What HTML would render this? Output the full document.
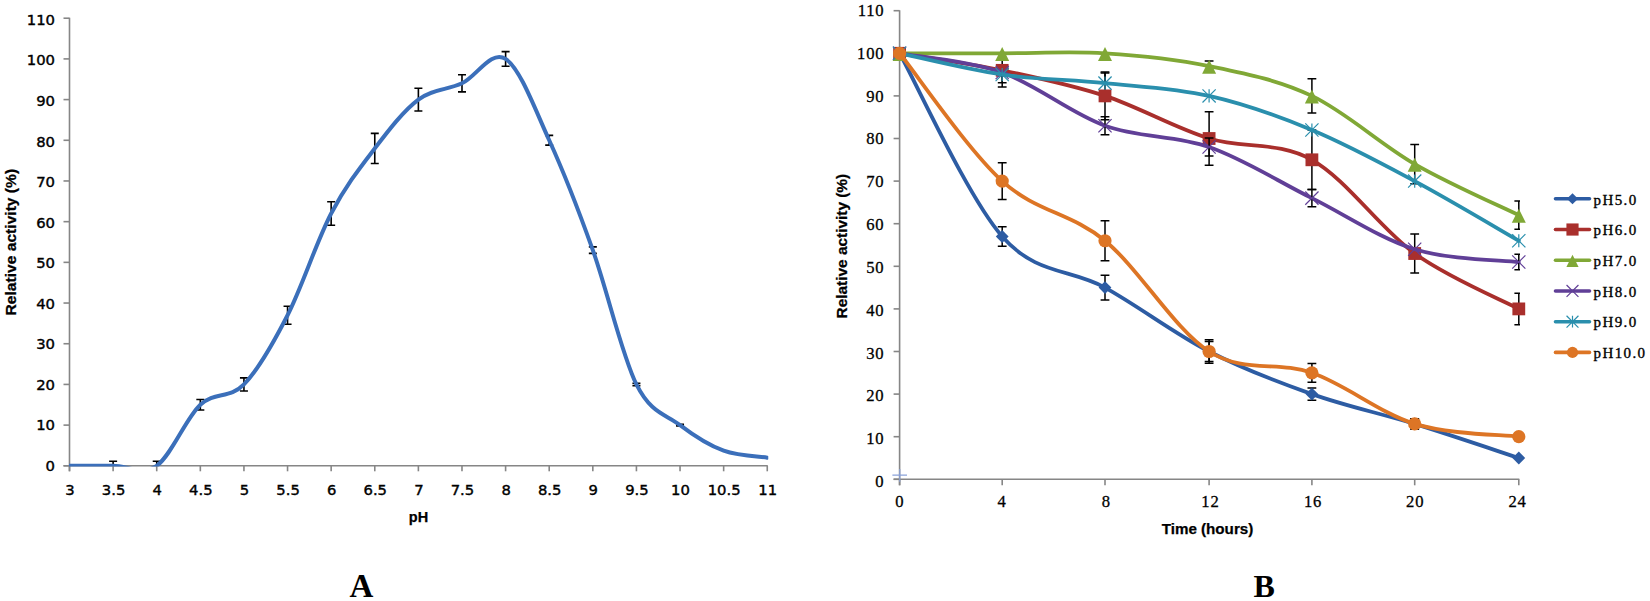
<!DOCTYPE html>
<html lang="en"><head><meta charset="utf-8"><title>Relative activity charts</title>
<style>html,body{margin:0;padding:0;background:#fff;overflow:hidden}svg{display:block}</style>
</head><body>
<svg width="1650" height="601" viewBox="0 0 1650 601">
<rect width="1650" height="601" fill="#fff"/>
<g stroke="#868686" stroke-width="1.6" fill="none">
<path d="M69.5,17.710000000000036 V471.3"/>
<path d="M63.5,465.8 H767.76"/>
<path d="M63.5,465.80 H69.5"/>
<path d="M63.5,425.11 H69.5"/>
<path d="M63.5,384.42 H69.5"/>
<path d="M63.5,343.73 H69.5"/>
<path d="M63.5,303.04 H69.5"/>
<path d="M63.5,262.35 H69.5"/>
<path d="M63.5,221.66 H69.5"/>
<path d="M63.5,180.97 H69.5"/>
<path d="M63.5,140.28 H69.5"/>
<path d="M63.5,99.59 H69.5"/>
<path d="M63.5,58.90 H69.5"/>
<path d="M63.5,18.21 H69.5"/>
<path d="M69.50,465.8 V471.3"/>
<path d="M113.11,465.8 V471.3"/>
<path d="M156.72,465.8 V471.3"/>
<path d="M200.33,465.8 V471.3"/>
<path d="M243.94,465.8 V471.3"/>
<path d="M287.55,465.8 V471.3"/>
<path d="M331.16,465.8 V471.3"/>
<path d="M374.77,465.8 V471.3"/>
<path d="M418.38,465.8 V471.3"/>
<path d="M461.99,465.8 V471.3"/>
<path d="M505.60,465.8 V471.3"/>
<path d="M549.21,465.8 V471.3"/>
<path d="M592.82,465.8 V471.3"/>
<path d="M636.43,465.8 V471.3"/>
<path d="M680.04,465.8 V471.3"/>
<path d="M723.65,465.8 V471.3"/>
<path d="M767.26,465.8 V471.3"/>
</g>
<g font-family="'DejaVu Sans', 'Liberation Sans', sans-serif" font-size="14.8" fill="#000" stroke="#000" stroke-width="0.4">
<text x="55" y="470.90" text-anchor="end">0</text>
<text x="55" y="430.35" text-anchor="end">10</text>
<text x="55" y="389.80" text-anchor="end">20</text>
<text x="55" y="349.25" text-anchor="end">30</text>
<text x="55" y="308.70" text-anchor="end">40</text>
<text x="55" y="268.15" text-anchor="end">50</text>
<text x="55" y="227.60" text-anchor="end">60</text>
<text x="55" y="187.05" text-anchor="end">70</text>
<text x="55" y="146.50" text-anchor="end">80</text>
<text x="55" y="105.95" text-anchor="end">90</text>
<text x="55" y="65.40" text-anchor="end">100</text>
<text x="55" y="24.85" text-anchor="end">110</text>
<text x="70.00" y="494.9" text-anchor="middle">3</text>
<text x="113.61" y="494.9" text-anchor="middle">3.5</text>
<text x="157.22" y="494.9" text-anchor="middle">4</text>
<text x="200.83" y="494.9" text-anchor="middle">4.5</text>
<text x="244.44" y="494.9" text-anchor="middle">5</text>
<text x="288.05" y="494.9" text-anchor="middle">5.5</text>
<text x="331.66" y="494.9" text-anchor="middle">6</text>
<text x="375.27" y="494.9" text-anchor="middle">6.5</text>
<text x="418.88" y="494.9" text-anchor="middle">7</text>
<text x="462.49" y="494.9" text-anchor="middle">7.5</text>
<text x="506.10" y="494.9" text-anchor="middle">8</text>
<text x="549.71" y="494.9" text-anchor="middle">8.5</text>
<text x="593.32" y="494.9" text-anchor="middle">9</text>
<text x="636.93" y="494.9" text-anchor="middle">9.5</text>
<text x="680.54" y="494.9" text-anchor="middle">10</text>
<text x="724.15" y="494.9" text-anchor="middle">10.5</text>
<text x="767.76" y="494.9" text-anchor="middle">11</text>
</g>
<defs><clipPath id="clipA"><rect x="69.0" y="0" width="699.26" height="466.40"/></clipPath></defs>
<g stroke="#000" stroke-width="1.6" fill="none" clip-path="url(#clipA)">
<path d="M113.11,461.32 V465.80 M109.11,461.32 H117.11"/>
<path d="M156.72,461.32 V465.80 M152.72,461.32 H160.72"/>
<path d="M200.33,399.48 V410.05 M196.33,399.48 H204.33 M196.33,410.05 H204.33"/>
<path d="M243.94,377.91 V390.93 M239.94,377.91 H247.94 M239.94,390.93 H247.94"/>
<path d="M287.55,306.30 V324.20 M283.55,306.30 H291.55 M283.55,324.20 H291.55"/>
<path d="M331.16,201.72 V225.32 M327.16,201.72 H335.16 M327.16,225.32 H335.16"/>
<path d="M374.77,133.36 V163.47 M370.77,133.36 H378.77 M370.77,163.47 H378.77"/>
<path d="M418.38,88.20 V110.98 M414.38,88.20 H422.38 M414.38,110.98 H422.38"/>
<path d="M461.99,74.77 V91.86 M457.99,74.77 H465.99 M457.99,91.86 H465.99"/>
<path d="M505.60,51.58 V66.22 M501.60,51.58 H509.60 M501.60,66.22 H509.60"/>
<path d="M549.21,135.40 V145.16 M545.21,135.40 H553.21 M545.21,145.16 H553.21"/>
<path d="M592.82,246.89 V253.40 M588.82,246.89 H596.82 M588.82,253.40 H596.82"/>
<path d="M636.43,383.20 V385.64 M632.43,383.20 H640.43 M632.43,385.64 H640.43"/>
<path d="M680.04,424.30 V425.92 M676.04,424.30 H684.04 M676.04,425.92 H684.04"/>
</g>
<path d="M69.50,465.80 C76.77,465.80 98.57,465.80 113.11,465.80 C127.65,465.80 142.18,475.97 156.72,465.80 C171.26,455.63 185.79,418.33 200.33,404.76 C214.87,391.20 229.40,399.34 243.94,384.42 C258.48,369.50 273.01,343.73 287.55,315.25 C302.09,286.76 316.62,241.33 331.16,213.52 C345.70,185.72 360.23,167.41 374.77,148.42 C389.31,129.43 403.84,110.44 418.38,99.59 C432.92,88.74 447.45,90.10 461.99,83.31 C476.53,76.53 491.06,49.41 505.60,58.90 C520.14,68.39 534.67,108.41 549.21,140.28 C563.75,172.15 578.28,209.45 592.82,250.14 C607.36,290.83 621.89,355.26 636.43,384.42 C650.97,413.58 665.50,414.06 680.04,425.11 C694.58,436.16 709.11,445.32 723.65,450.74 C738.19,456.17 759.99,456.51 767.26,457.66" fill="none" stroke="#3b6fba" stroke-width="4.0" stroke-linecap="round" stroke-linejoin="round" clip-path="url(#clipA)"/>
<g font-family="'Liberation Sans', sans-serif" font-weight="bold" fill="#000" stroke="#000" stroke-width="0.25">
<text transform="translate(16,315.4) rotate(-90)" font-size="14.5" textLength="146.5" lengthAdjust="spacingAndGlyphs">Relative activity (%)</text>
<text x="418.5" y="521.8" font-size="14.5" text-anchor="middle">pH</text>
</g>
<text x="361.4" y="596.7" font-family="'Liberation Serif', serif" font-weight="bold" font-size="33" text-anchor="middle">A</text>
<g stroke="#868686" stroke-width="1.6" fill="none">
<path d="M899.6,10.200000000000045 V485.3"/>
<path d="M893.6,479.3 H1519.3"/>
<path d="M893.6,479.30 H899.6"/>
<path d="M893.6,436.70 H899.6"/>
<path d="M893.6,394.10 H899.6"/>
<path d="M893.6,351.50 H899.6"/>
<path d="M893.6,308.90 H899.6"/>
<path d="M893.6,266.30 H899.6"/>
<path d="M893.6,223.70 H899.6"/>
<path d="M893.6,181.10 H899.6"/>
<path d="M893.6,138.50 H899.6"/>
<path d="M893.6,95.90 H899.6"/>
<path d="M893.6,53.30 H899.6"/>
<path d="M893.6,10.70 H899.6"/>
<path d="M899.60,479.3 V485.3"/>
<path d="M1002.20,479.3 V485.3"/>
<path d="M1105.00,479.3 V485.3"/>
<path d="M1209.10,479.3 V485.3"/>
<path d="M1311.90,479.3 V485.3"/>
<path d="M1414.70,479.3 V485.3"/>
<path d="M1518.80,479.3 V485.3"/>
</g>
<path d="M892.4,475.1 H907 M899.8000000000001,469 V481.7" stroke="#8aa2da" stroke-width="1.1" fill="none"/>
<g font-family="'Liberation Serif', serif" font-size="16.6" fill="#000" letter-spacing="0.8" stroke="#000" stroke-width="0.3">
<text x="884.4" y="487.10" text-anchor="end">0</text>
<text x="884.4" y="444.27" text-anchor="end">10</text>
<text x="884.4" y="401.44" text-anchor="end">20</text>
<text x="884.4" y="358.61" text-anchor="end">30</text>
<text x="884.4" y="315.78" text-anchor="end">40</text>
<text x="884.4" y="272.95" text-anchor="end">50</text>
<text x="884.4" y="230.12" text-anchor="end">60</text>
<text x="884.4" y="187.29" text-anchor="end">70</text>
<text x="884.4" y="144.46" text-anchor="end">80</text>
<text x="884.4" y="101.63" text-anchor="end">90</text>
<text x="884.4" y="58.80" text-anchor="end">100</text>
<text x="884.4" y="15.97" text-anchor="end">110</text>
<text x="899.90" y="507.3" text-anchor="middle">0</text>
<text x="1002.10" y="507.3" text-anchor="middle">4</text>
<text x="1106.40" y="507.3" text-anchor="middle">8</text>
<text x="1210.40" y="507.3" text-anchor="middle">12</text>
<text x="1313.10" y="507.3" text-anchor="middle">16</text>
<text x="1415.20" y="507.3" text-anchor="middle">20</text>
<text x="1517.60" y="507.3" text-anchor="middle">24</text>
</g>
<defs><clipPath id="clipB"><rect x="890" y="0" width="630.00" height="601"/></clipPath></defs>
<path d="M899.60,53.30 C916.70,83.83 967.97,197.43 1002.20,236.48 C1036.43,275.53 1070.52,268.43 1105.00,287.60 C1139.48,306.77 1174.62,333.75 1209.10,351.50 C1243.58,369.25 1277.63,382.03 1311.90,394.10 C1346.17,406.17 1380.22,413.27 1414.70,423.92 C1449.18,434.57 1501.45,452.32 1518.80,458.00" fill="none" stroke="#2d5ca3" stroke-width="3.8" stroke-linecap="round" stroke-linejoin="round"/>
<path d="M1002.20,226.68 V246.28 M997.80,226.68 H1006.60 M997.80,246.28 H1006.60 M1105.00,275.25 V299.95 M1100.60,275.25 H1109.40 M1100.60,299.95 H1109.40 M1209.10,341.49 V361.51 M1204.70,341.49 H1213.50 M1204.70,361.51 H1213.50 M1311.90,387.92 V400.28 M1307.50,387.92 H1316.30 M1307.50,400.28 H1316.30 M1414.70,418.81 V429.03 M1410.30,418.81 H1419.10 M1410.30,429.03 H1419.10" stroke="#000" stroke-width="1.5" fill="none" clip-path="url(#clipB)"/>
<path d="M899.60,46.90 L906.00,53.30 L899.60,59.70 L893.20,53.30Z" fill="#2d5ca3"/>
<path d="M1002.20,230.08 L1008.60,236.48 L1002.20,242.88 L995.80,236.48Z" fill="#2d5ca3"/>
<path d="M1105.00,281.20 L1111.40,287.60 L1105.00,294.00 L1098.60,287.60Z" fill="#2d5ca3"/>
<path d="M1209.10,345.10 L1215.50,351.50 L1209.10,357.90 L1202.70,351.50Z" fill="#2d5ca3"/>
<path d="M1311.90,387.70 L1318.30,394.10 L1311.90,400.50 L1305.50,394.10Z" fill="#2d5ca3"/>
<path d="M1414.70,417.52 L1421.10,423.92 L1414.70,430.32 L1408.30,423.92Z" fill="#2d5ca3"/>
<path d="M1518.80,451.60 L1525.20,458.00 L1518.80,464.40 L1512.40,458.00Z" fill="#2d5ca3"/>
<path d="M899.60,53.30 C916.70,56.14 967.97,63.24 1002.20,70.34 C1036.43,77.44 1070.52,84.54 1105.00,95.90 C1139.48,107.26 1174.62,127.85 1209.10,138.50 C1243.58,149.15 1277.63,140.63 1311.90,159.80 C1346.17,178.97 1380.22,228.67 1414.70,253.52 C1449.18,278.37 1501.45,299.67 1518.80,308.90" fill="none" stroke="#a92f2c" stroke-width="3.8" stroke-linecap="round" stroke-linejoin="round"/>
<path d="M1002.20,53.60 V87.08 M997.80,53.60 H1006.60 M997.80,87.08 H1006.60 M1105.00,72.04 V119.76 M1100.60,72.04 H1109.40 M1100.60,119.76 H1109.40 M1209.10,111.66 V165.34 M1204.70,111.66 H1213.50 M1204.70,165.34 H1213.50 M1311.90,129.98 V189.62 M1307.50,129.98 H1316.30 M1307.50,189.62 H1316.30 M1414.70,233.92 V273.12 M1410.30,233.92 H1419.10 M1410.30,273.12 H1419.10 M1518.80,293.14 V324.66 M1514.40,293.14 H1523.20 M1514.40,324.66 H1523.20" stroke="#000" stroke-width="1.5" fill="none" clip-path="url(#clipB)"/>
<rect x="893.20" y="46.90" width="12.80" height="12.80" fill="#a92f2c"/>
<rect x="995.80" y="63.94" width="12.80" height="12.80" fill="#a92f2c"/>
<rect x="1098.60" y="89.50" width="12.80" height="12.80" fill="#a92f2c"/>
<rect x="1202.70" y="132.10" width="12.80" height="12.80" fill="#a92f2c"/>
<rect x="1305.50" y="153.40" width="12.80" height="12.80" fill="#a92f2c"/>
<rect x="1408.30" y="247.12" width="12.80" height="12.80" fill="#a92f2c"/>
<rect x="1512.40" y="302.50" width="12.80" height="12.80" fill="#a92f2c"/>
<path d="M899.60,53.30 C916.70,53.30 967.97,53.30 1002.20,53.30 C1036.43,53.30 1070.52,51.17 1105.00,53.30 C1139.48,55.43 1174.62,58.98 1209.10,66.08 C1243.58,73.18 1277.63,79.57 1311.90,95.90 C1346.17,112.23 1380.22,144.18 1414.70,164.06 C1449.18,183.94 1501.45,206.66 1518.80,215.18" fill="none" stroke="#80a836" stroke-width="3.8" stroke-linecap="round" stroke-linejoin="round"/>
<path d="M1209.10,60.97 V71.19 M1204.70,60.97 H1213.50 M1204.70,71.19 H1213.50 M1311.90,78.86 V112.94 M1307.50,78.86 H1316.30 M1307.50,112.94 H1316.30 M1414.70,144.46 V183.66 M1410.30,144.46 H1419.10 M1410.30,183.66 H1419.10 M1518.80,201.12 V229.24 M1514.40,201.12 H1523.20 M1514.40,229.24 H1523.20" stroke="#000" stroke-width="1.5" fill="none" clip-path="url(#clipB)"/>
<path d="M899.60,46.90 L906.60,60.90 L892.60,60.90Z" fill="#80a836"/>
<path d="M1002.20,46.90 L1009.20,60.90 L995.20,60.90Z" fill="#80a836"/>
<path d="M1105.00,46.90 L1112.00,60.90 L1098.00,60.90Z" fill="#80a836"/>
<path d="M1209.10,59.68 L1216.10,73.68 L1202.10,73.68Z" fill="#80a836"/>
<path d="M1311.90,89.50 L1318.90,103.50 L1304.90,103.50Z" fill="#80a836"/>
<path d="M1414.70,157.66 L1421.70,171.66 L1407.70,171.66Z" fill="#80a836"/>
<path d="M1518.80,208.78 L1525.80,222.78 L1511.80,222.78Z" fill="#80a836"/>
<path d="M899.60,53.30 C916.70,56.50 967.97,60.40 1002.20,72.47 C1036.43,84.54 1070.52,113.30 1105.00,125.72 C1139.48,138.15 1174.62,134.95 1209.10,147.02 C1243.58,159.09 1277.63,181.10 1311.90,198.14 C1346.17,215.18 1380.22,238.61 1414.70,249.26 C1449.18,259.91 1501.45,259.91 1518.80,262.04" fill="none" stroke="#603f97" stroke-width="3.8" stroke-linecap="round" stroke-linejoin="round"/>
<path d="M1105.00,116.77 V134.67 M1100.60,116.77 H1109.40 M1100.60,134.67 H1109.40 M1209.10,138.07 V155.97 M1204.70,138.07 H1213.50 M1204.70,155.97 H1213.50 M1311.90,189.62 V206.66 M1307.50,189.62 H1316.30 M1307.50,206.66 H1316.30 M1518.80,254.37 V269.71 M1514.40,254.37 H1523.20 M1514.40,269.71 H1523.20" stroke="#000" stroke-width="1.5" fill="none" clip-path="url(#clipB)"/>
<path d="M893.00,46.70 L906.20,59.90 M893.00,59.90 L906.20,46.70" stroke="#603f97" stroke-width="1.2" fill="none"/>
<path d="M995.60,65.87 L1008.80,79.07 M995.60,79.07 L1008.80,65.87" stroke="#603f97" stroke-width="1.2" fill="none"/>
<path d="M1098.40,119.12 L1111.60,132.32 M1098.40,132.32 L1111.60,119.12" stroke="#603f97" stroke-width="1.2" fill="none"/>
<path d="M1202.50,140.42 L1215.70,153.62 M1202.50,153.62 L1215.70,140.42" stroke="#603f97" stroke-width="1.2" fill="none"/>
<path d="M1305.30,191.54 L1318.50,204.74 M1305.30,204.74 L1318.50,191.54" stroke="#603f97" stroke-width="1.2" fill="none"/>
<path d="M1408.10,242.66 L1421.30,255.86 M1408.10,255.86 L1421.30,242.66" stroke="#603f97" stroke-width="1.2" fill="none"/>
<path d="M1512.20,255.44 L1525.40,268.64 M1512.20,268.64 L1525.40,255.44" stroke="#603f97" stroke-width="1.2" fill="none"/>
<path d="M899.60,53.30 C916.70,56.85 967.97,69.63 1002.20,74.60 C1036.43,79.57 1070.52,79.57 1105.00,83.12 C1139.48,86.67 1174.62,88.09 1209.10,95.90 C1243.58,103.71 1277.63,115.78 1311.90,129.98 C1346.17,144.18 1380.22,162.64 1414.70,181.10 C1449.18,199.56 1501.45,230.80 1518.80,240.74" fill="none" stroke="#2a8fad" stroke-width="3.8" stroke-linecap="round" stroke-linejoin="round"/>
<path d="M1002.20,74.60 V82.69 M997.80,82.69 H1006.60 M1105.00,72.90 V83.12 M1100.60,72.90 H1109.40" stroke="#000" stroke-width="1.5" fill="none" clip-path="url(#clipB)"/>
<path d="M893.00,46.70 L906.20,59.90 M893.00,59.90 L906.20,46.70 M899.60,46.70 V59.90" stroke="#2a8fad" stroke-width="1.2" fill="none"/>
<path d="M995.60,68.00 L1008.80,81.20 M995.60,81.20 L1008.80,68.00 M1002.20,68.00 V81.20" stroke="#2a8fad" stroke-width="1.2" fill="none"/>
<path d="M1098.40,76.52 L1111.60,89.72 M1098.40,89.72 L1111.60,76.52 M1105.00,76.52 V89.72" stroke="#2a8fad" stroke-width="1.2" fill="none"/>
<path d="M1202.50,89.30 L1215.70,102.50 M1202.50,102.50 L1215.70,89.30 M1209.10,89.30 V102.50" stroke="#2a8fad" stroke-width="1.2" fill="none"/>
<path d="M1305.30,123.38 L1318.50,136.58 M1305.30,136.58 L1318.50,123.38 M1311.90,123.38 V136.58" stroke="#2a8fad" stroke-width="1.2" fill="none"/>
<path d="M1408.10,174.50 L1421.30,187.70 M1408.10,187.70 L1421.30,174.50 M1414.70,174.50 V187.70" stroke="#2a8fad" stroke-width="1.2" fill="none"/>
<path d="M1512.20,234.14 L1525.40,247.34 M1512.20,247.34 L1525.40,234.14 M1518.80,234.14 V247.34" stroke="#2a8fad" stroke-width="1.2" fill="none"/>
<path d="M899.60,53.30 C916.70,74.60 967.97,149.86 1002.20,181.10 C1036.43,212.34 1070.52,212.34 1105.00,240.74 C1139.48,269.14 1174.62,329.49 1209.10,351.50 C1243.58,373.51 1277.63,360.73 1311.90,372.80 C1346.17,384.87 1380.22,413.27 1414.70,423.92 C1449.18,434.57 1501.45,434.57 1518.80,436.70" fill="none" stroke="#dd7525" stroke-width="3.8" stroke-linecap="round" stroke-linejoin="round"/>
<path d="M1002.20,162.78 V199.42 M997.80,162.78 H1006.60 M997.80,199.42 H1006.60 M1105.00,220.72 V260.76 M1100.60,220.72 H1109.40 M1100.60,260.76 H1109.40 M1209.10,339.79 V363.22 M1204.70,339.79 H1213.50 M1204.70,363.22 H1213.50 M1311.90,363.43 V382.17 M1307.50,363.43 H1316.30 M1307.50,382.17 H1316.30 M1414.70,418.81 V429.03 M1410.30,418.81 H1419.10 M1410.30,429.03 H1419.10" stroke="#000" stroke-width="1.5" fill="none" clip-path="url(#clipB)"/>
<circle cx="899.60" cy="53.30" r="6.60" fill="#dd7525"/>
<circle cx="1002.20" cy="181.10" r="6.60" fill="#dd7525"/>
<circle cx="1105.00" cy="240.74" r="6.60" fill="#dd7525"/>
<circle cx="1209.10" cy="351.50" r="6.60" fill="#dd7525"/>
<circle cx="1311.90" cy="372.80" r="6.60" fill="#dd7525"/>
<circle cx="1414.70" cy="423.92" r="6.60" fill="#dd7525"/>
<circle cx="1518.80" cy="436.70" r="6.60" fill="#dd7525"/>
<g font-family="'Liberation Serif', serif" font-size="15" fill="#000" stroke="#000" stroke-width="0.35">
<path d="M1555.5,198.80 H1589.5" stroke="#2d5ca3" stroke-width="3.6" stroke-linecap="round"/>
<path d="M1572.50,193.23 L1578.07,198.80 L1572.50,204.37 L1566.93,198.80Z" fill="#2d5ca3" stroke="none"/>
<text x="1593.5" y="204.60" textLength="42.7" lengthAdjust="spacing">pH5.0</text>
<path d="M1555.5,229.52 H1589.5" stroke="#a92f2c" stroke-width="3.6" stroke-linecap="round"/>
<rect x="1566.42" y="223.44" width="12.16" height="12.16" fill="#a92f2c" stroke="none"/>
<text x="1593.5" y="235.32" textLength="42.7" lengthAdjust="spacing">pH6.0</text>
<path d="M1555.5,260.24 H1589.5" stroke="#80a836" stroke-width="3.6" stroke-linecap="round"/>
<path d="M1572.50,254.75 L1578.59,266.93 L1566.41,266.93Z" fill="#80a836" stroke="none"/>
<text x="1593.5" y="266.04" textLength="42.7" lengthAdjust="spacing">pH7.0</text>
<path d="M1555.5,290.96 H1589.5" stroke="#603f97" stroke-width="3.6" stroke-linecap="round"/>
<path stroke-linecap="butt" d="M1566.56,285.02 L1578.44,296.90 M1566.56,296.90 L1578.44,285.02" stroke="#603f97" stroke-width="1.2" fill="none"/>
<text x="1593.5" y="296.76" textLength="42.7" lengthAdjust="spacing">pH8.0</text>
<path d="M1555.5,321.68 H1589.5" stroke="#2a8fad" stroke-width="3.6" stroke-linecap="round"/>
<path stroke-linecap="butt" d="M1566.56,315.74 L1578.44,327.62 M1566.56,327.62 L1578.44,315.74 M1572.50,315.74 V327.62" stroke="#2a8fad" stroke-width="1.2" fill="none"/>
<text x="1593.5" y="327.48" textLength="42.7" lengthAdjust="spacing">pH9.0</text>
<path d="M1555.5,352.40 H1589.5" stroke="#dd7525" stroke-width="3.6" stroke-linecap="round"/>
<circle cx="1572.50" cy="352.40" r="5.61" fill="#dd7525" stroke="none"/>
<text x="1593.5" y="358.20" textLength="51.6" lengthAdjust="spacing">pH10.0</text>
</g>
<g font-family="'Liberation Sans', sans-serif" font-weight="bold" fill="#000" stroke="#000" stroke-width="0.25">
<text transform="translate(847.2,318.4) rotate(-90)" font-size="14.5" textLength="144.6" lengthAdjust="spacingAndGlyphs">Relative activity (%)</text>
<text x="1207.5" y="533.7" font-size="15" text-anchor="middle" textLength="91.6" lengthAdjust="spacingAndGlyphs">Time (hours)</text>
</g>
<text x="1264.2" y="596.7" font-family="'Liberation Serif', serif" font-weight="bold" font-size="32" text-anchor="middle">B</text>
</svg>
</body></html>
